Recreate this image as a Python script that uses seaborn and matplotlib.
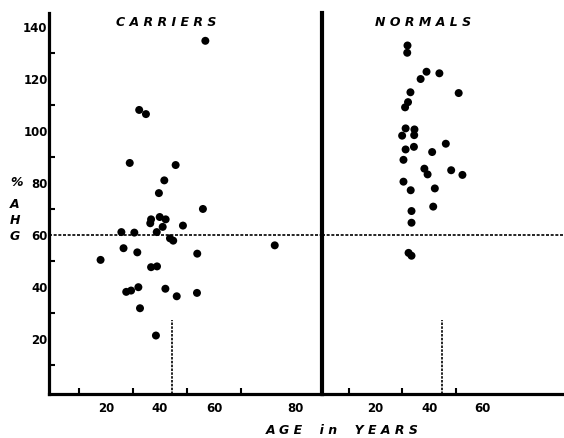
import matplotlib
matplotlib.use("Agg")
import matplotlib.pyplot as plt
import seaborn as sns
import pandas as pd
import numpy as np

# ---------------- data ----------------
carrier_age = [56.8, 32.3, 34.8, 28.8, 45.8, 41.6, 39.6, 55.9, 36.7, 36.4,
               39.9, 42.1, 41.0, 48.5, 25.7, 30.5, 38.8, 43.7, 44.9, 26.5,
               31.6, 18.0, 53.8, 36.7, 38.9, 27.5, 29.3, 32.0, 42.0, 46.2,
               53.7, 32.6, 38.5, 82.5]
carrier_ahg = [134.6, 108.0, 106.4, 87.6, 86.8, 80.9, 76.0, 69.9, 65.9, 64.4,
               66.8, 65.9, 63.0, 63.5, 61.0, 60.8, 61.0, 58.6, 57.7, 54.8,
               53.2, 50.3, 52.7, 47.5, 47.8, 38.0, 38.5, 39.8, 39.2, 36.3,
               37.6, 31.7, 21.2, 55.9]
normal_age = [31.9, 31.8, 39.0, 43.8, 36.8, 33.0, 51.0, 32.1, 31.0, 31.2,
              34.5, 29.9, 34.4, 31.2, 34.3, 46.2, 41.1, 30.4, 38.2, 39.4,
              48.2, 52.4, 30.4, 33.1, 42.1, 33.4, 41.5, 33.4, 32.3, 33.4]
normal_ahg = [132.8, 130.0, 122.7, 122.1, 119.9, 114.8, 114.5, 111.0, 109.0, 100.9,
              100.5, 98.1, 98.3, 92.8, 93.8, 95.0, 91.8, 88.8, 85.4, 83.2,
              84.8, 83.0, 80.4, 77.1, 77.8, 69.1, 70.8, 64.6, 53.0, 51.9]
reference_ahg = 60
carrier_mean_age = 44.6
normal_mean_age = 44.8
mean_marker_top = 27
y_ticks = [20, 40, 60, 80, 100, 120, 140]
y_minor = [10, 30, 50, 70, 90, 110, 130]
left_x_ticks = [20, 40, 60, 90]
left_x_labels = ["20", "40", "60", "80"]
left_x_minor = [10, 30, 50, 70]
right_x_ticks = [20, 40, 60]
right_x_labels = ["20", "40", "60"]
right_x_minor = [10, 30, 50]

carriers = pd.DataFrame({"age": carrier_age, "ahg": carrier_ahg})
normals = pd.DataFrame({"age": normal_age, "ahg": normal_ahg})

# ---------------- figure ----------------
sns.set_style("white")
plt.rcParams["font.family"] = ["DejaVu Sans"]
plt.rcParams["text.color"] = "black"
plt.rcParams["axes.edgecolor"] = "black"
plt.rcParams["xtick.color"] = "black"
plt.rcParams["ytick.color"] = "black"

W, H = 564, 438
fig = plt.figure(figsize=(W / 100, H / 100), dpi=100)
fig.patch.set_facecolor("white")

bottom = 44 / H
height = 381 / H
axL = fig.add_axes([49 / W, bottom, 273 / W, height])
axR = fig.add_axes([322 / W, bottom, 242 / W, height])

for ax, df in ((axL, carriers), (axR, normals)):
    sns.scatterplot(data=df, x="age", y="ahg", ax=ax, color="black",
                    s=33, linewidth=0, edgecolor="none", zorder=3)
    ax.set_ylim(-1.3, 145.3)
    ax.set_xlabel("")
    ax.set_ylabel("")
    ax.set_facecolor("white")
    ax.spines["top"].set_visible(False)
    ax.spines["right"].set_visible(False)
    ax.spines["bottom"].set_linewidth(2.3)
    ax.spines["bottom"].set_color("black")
    ax.spines["left"].set_color("black")
    ax.axhline(reference_ahg, color="black", lw=1.2, ls=(0, (1.8, 1.0)), zorder=2)

axL.set_xlim(-1.1, 100)
axR.set_xlim(0, 90.3)

axL.spines["left"].set_linewidth(2.3)
axR.spines["left"].set_linewidth(3.0)

axL.set_yticks(y_ticks)
axL.set_yticks(y_minor, minor=True)
axL.set_yticklabels([str(v) for v in y_ticks], fontweight="bold", fontsize=8.5,
                    color="black")

axR.set_yticks([])
axR.set_yticks([], minor=True)

axL.set_xticks(left_x_ticks)
axL.set_xticklabels(left_x_labels, fontweight="bold", fontsize=8.5, color="black")
axL.set_xticks(left_x_minor, minor=True)
axR.set_xticks(right_x_ticks)
axR.set_xticklabels(right_x_labels, fontweight="bold", fontsize=8.5, color="black")
axR.set_xticks(right_x_minor, minor=True)

for ax in (axL, axR):
    ax.tick_params(axis="both", which="major", length=0)
    ax.tick_params(axis="x", which="major", pad=6)
    ax.tick_params(axis="both", which="minor", length=4, width=1.5,
                   direction="in", color="black", left=True, bottom=True)
axL.tick_params(axis="y", which="major", pad=1)

axL.vlines(carrier_mean_age, -1.3, mean_marker_top, color="black", lw=1.2,
           ls=(0, (1.5, 0.8)), zorder=2)
axR.vlines(normal_mean_age, -1.3, mean_marker_top, color="black", lw=1.2,
           ls=(0, (1.5, 0.8)), zorder=2)

def ftext(x, y, s, **kw):
    fig.text(x / W, 1 - y / H, s, ha="center", va="center", color="black",
             fontweight="bold", style="italic", fontsize=9, **kw)

ftext(166, 23, "C A R R I E R S")
ftext(423, 22, "N O R M A L S")
ftext(17, 182, "%")
ftext(15, 204, "A")
ftext(15, 220, "H")
ftext(15, 236, "G")
ftext(342, 430, "A G E    i n    Y E A R S")

fig.savefig("out.png", dpi=100, facecolor="white")
